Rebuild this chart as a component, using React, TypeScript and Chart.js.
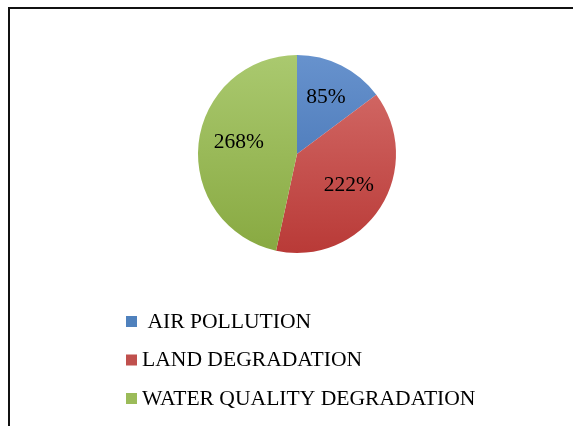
import React, { useEffect, useRef } from "react";
import { Chart, registerables } from "chart.js";

Chart.register(...registerables);

const categories = [" AIR POLLUTION", "LAND DEGRADATION", "WATER QUALITY DEGRADATION"];
const values = [85, 222, 268];
const valueLabels = ["85%", "222%", "268%"];
const topColors = ["#6792cd", "#d6706d", "#aac96f"];
const bottomColors = ["#3c6cae", "#b93a37", "#88a941"];
const legendColors = ["#4f81bd", "#c0504d", "#9bbb59"];

// label placement tweaks (fraction of radius, angle offset in degrees)
const labelRadius = [0.655, 0.61, 0.6];
const labelAngleShift = [0, -2, 6];

export default function App() {
  const ref = useRef<HTMLCanvasElement | null>(null);

  useEffect(() => {
    const canvas = ref.current;
    if (!canvas) return;

    const sliceLabels = {
      id: "sliceLabels",
      afterDatasetsDraw(chart: any) {
        const ctx = chart.ctx;
        const meta = chart.getDatasetMeta(0);
        ctx.save();
        ctx.fillStyle = "#000";
        ctx.font = '21.5px "Liberation Serif", "Times New Roman", serif';
        ctx.textAlign = "center";
        ctx.textBaseline = "middle";
        meta.data.forEach((arc: any, i: number) => {
          const p = arc.getProps(["x", "y", "startAngle", "endAngle", "outerRadius"], true);
          const mid = (p.startAngle + p.endAngle) / 2 + (labelAngleShift[i] * Math.PI) / 180;
          const r = p.outerRadius * labelRadius[i];
          ctx.fillText(valueLabels[i], p.x + Math.cos(mid) * r, p.y + Math.sin(mid) * r + 1);
        });
        ctx.restore();
      },
    };

    const customLegend = {
      id: "customLegend",
      afterDraw(chart: any) {
        const ctx = chart.ctx;
        ctx.save();
        ctx.font = '21.6px "Liberation Serif", "Times New Roman", serif';
        ctx.textBaseline = "middle";
        ctx.textAlign = "left";
        const x0 = 126;
        const y0 = 321;
        const step = 38.5;
        categories.forEach((label, i) => {
          const y = y0 + i * step;
          ctx.fillStyle = legendColors[i];
          ctx.fillRect(x0, y - 5, 11, 11);
          ctx.fillStyle = "#000";
          ctx.fillText(label, x0 + 16, y + 1);
        });
        ctx.restore();
      },
    };

    const chart = new Chart(canvas, {
      type: "pie",
      data: {
        labels: categories,
        datasets: [
          {
            data: values,
            borderWidth: 0,
            backgroundColor: (c: any) => {
              const area = c.chart.chartArea;
              if (!area) return legendColors[c.dataIndex];
              const g = c.chart.ctx.createLinearGradient(0, area.top, 0, area.bottom);
              g.addColorStop(0, topColors[c.dataIndex]);
              g.addColorStop(1, bottomColors[c.dataIndex]);
              return g;
            },
          },
        ],
      },
      options: {
        animation: false,
        responsive: false,
        layout: { padding: { left: 198, right: 177, top: 55, bottom: 173 } },
        plugins: {
          legend: { display: false },
          tooltip: { enabled: false },
        },
      },
      plugins: [sliceLabels, customLegend],
    });
    return () => chart.destroy();
  }, []);

  return (
    <div style={{ position: "fixed", left: 0, top: 0, width: 573, height: 426, background: "#fff", overflow: "hidden" }}>
      <div
        style={{
          position: "absolute",
          left: 8,
          top: 7,
          width: 600,
          height: 500,
          borderTop: "2px solid #111",
          borderLeft: "2px solid #111",
        }}
      />
      <canvas ref={ref} width={573} height={426} style={{ position: "absolute", left: 0, top: 0, width: 573, height: 426 }} />
    </div>
  );
}
